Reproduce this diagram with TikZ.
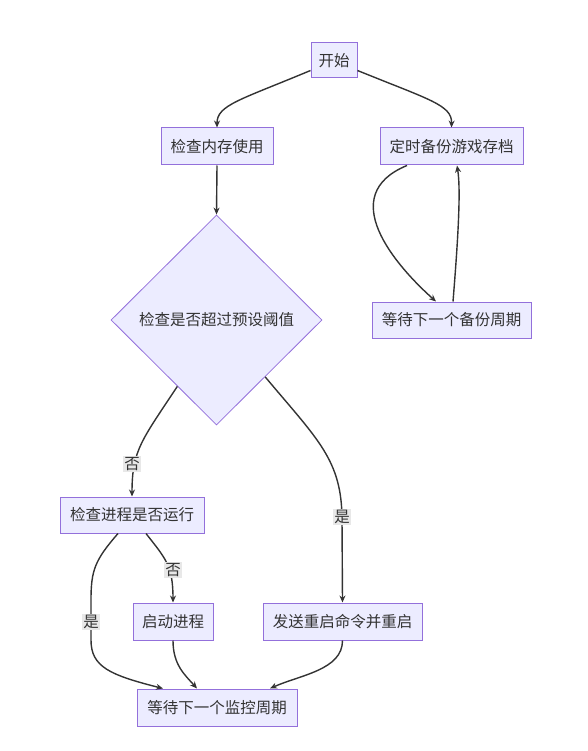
\documentclass[tikz,border=0pt]{standalone}
\usepackage{fontspec}
\newfontfamily\cjk{Noto Sans CJK SC}
\usetikzlibrary{arrows.meta,shapes.geometric,calc}
\definecolor{nodefill}{HTML}{ECECFF}
\definecolor{nodeline}{HTML}{9370DB}
\definecolor{edgecol}{HTML}{333333}
\definecolor{lblbg}{HTML}{E8E8E8}
\tikzset{
  box/.style={draw=nodeline, fill=nodefill, line width=1pt, rectangle, inner sep=0pt, font=\cjk\fontsize{15.5}{18}\selectfont, text=edgecol},
  dia/.style={draw=nodeline, fill=nodefill, line width=0.8pt, diamond, inner sep=0pt, font=\cjk\fontsize{15.5}{18}\selectfont, text=edgecol},
  conn/.style={draw=edgecol, line width=1.4pt, -{Stealth[length=7pt,width=6pt]}},
  lbl/.style={fill=lblbg, inner sep=1pt, font=\cjk\fontsize{15.5}{18}\selectfont, text=edgecol}
}
\begin{document}
\begin{tikzpicture}[x=1pt,y=-1pt]
\useasboundingbox (0,0) rectangle (587,751);
% nodes
\node[box, minimum width=46pt, minimum height=35pt] (start) at (334,60.5) {开始};
\node[box, minimum width=112pt, minimum height=37pt] (mem) at (217,146.5) {检查内存使用};
\node[box, minimum width=143pt, minimum height=37pt] (backup) at (451.5,146.5) {定时备份游戏存档};
\node[dia, minimum width=211pt, minimum height=210pt] (thr) at (216.5,320) {检查是否超过预设阈值};
\node[box, minimum width=159pt, minimum height=36pt] (waitb) at (451.5,320) {等待下一个备份周期};
\node[box, minimum width=144pt, minimum height=36pt] (proc) at (132,515) {检查进程是否运行};
\node[box, minimum width=80pt, minimum height=37pt] (sproc) at (173,621.5) {启动进程};
\node[box, minimum width=159pt, minimum height=37pt] (restart) at (342.5,621.5) {发送重启命令并重启};
\node[box, minimum width=160pt, minimum height=37pt] (waitm) at (217,707.5) {等待下一个监控周期};
% connectors
\draw[conn] ($(start.south west)+(0,-8)$) .. controls (240,100) and (217,105) .. (mem.north);
\draw[conn] ($(start.south east)+(0,-8)$) .. controls (430,100) and (452,105) .. (backup.north);
\draw[conn] ($(backup.south)+(-44.5,0)$) .. controls (335,195) and (395,265) .. ($(waitb.north)+(-15.5,0)$);
\draw[conn] ($(waitb.north)+(1.5,0)$) .. controls (458,240) and (461,190) .. ($(backup.south)+(5.5,0)$);
\draw[conn] (mem.south) -- (thr.north);
\draw[conn] ($(thr.west)!0.63!(thr.south)$) .. controls (142,440) and (132,450) .. (proc.north);
\draw[conn] ($(thr.south)!0.46!(thr.east)$) .. controls (318,440) and (342,460) .. (342,520) -- (restart.north);
\draw[conn] ($(proc.south)+(-14,0)$) .. controls (95,560) and (91,570) .. (91,600) -- (91,640) .. controls (91,667) and (110,675) .. ($(waitm.north)+(-54,0)$);
\draw[conn] ($(proc.south)+(14,0)$) .. controls (165,558) and (173,565) .. (sproc.north);
\draw[conn] (sproc.south) .. controls (173,665) and (185,675) .. ($(waitm.north)+(-20,0)$);
\draw[conn] (restart.south) .. controls (342.5,670) and (300,675) .. ($(waitm.north)+(53,0)$);
% labels
\node[lbl] (l1) at (132,464) {否};
\node[lbl] (l2) at (342,517) {是};
\node[lbl] (l3) at (173,570) {否};
\node[lbl] (l4) at (91,622) {是};
\end{tikzpicture}
\end{document}
